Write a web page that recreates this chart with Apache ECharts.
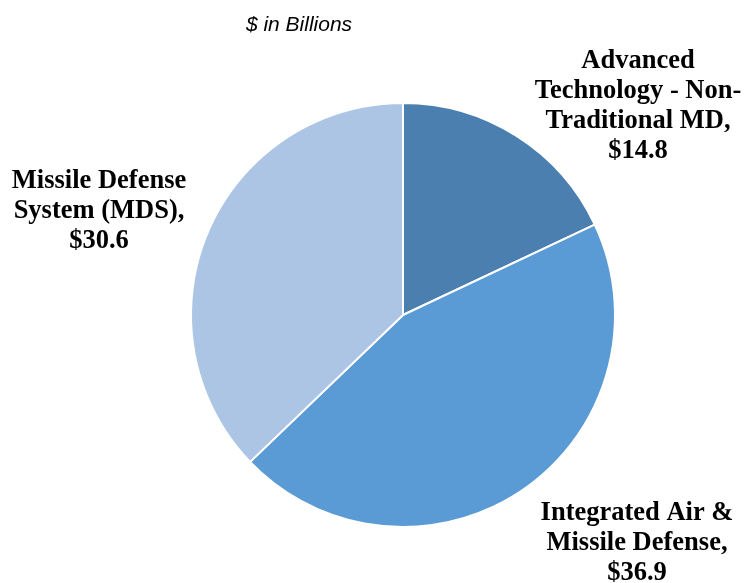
<!DOCTYPE html>
<html>
<head>
<meta charset="utf-8">
<script src="https://cdn.jsdelivr.net/npm/echarts@6/dist/echarts.min.js"></script>
<style>html,body{margin:0;padding:0;background:#fff}#c{width:744px;height:583px}</style>
</head>
<body>
<div id="c"></div>
<script>
const categories = ["Advanced\nTechnology - Non-\nTraditional MD,", "Integrated Air &\nMissile Defense,", "Missile Defense\nSystem (MDS),"];
const values = [14.8, 36.9, 30.6];
const colors = ["#4a7fb0", "#5b9bd5", "#adc5e5"];
const subtitle = "$ in Billions";

const labelPos = [[638, 106], [637, 543], [99, 211]];

const chart = echarts.init(document.getElementById('c'), null, {renderer: 'canvas'});
chart.setOption({
  animation: false,
  title: {
    text: subtitle, left: 294, top: 20, textAlign: 'center', textVerticalAlign: 'middle',
    textStyle: {fontFamily: 'Liberation Sans', fontStyle: 'italic', fontWeight: 'normal', fontSize: 21, color: '#000'}
  },
  series: [{
    type: 'pie',
    center: [403, 315],
    radius: 212,
    startAngle: 90,
    clockwise: true,
    itemStyle: {borderColor: '#fff', borderWidth: 2},
    labelLine: {show: false},
    label: {
      show: true,
      position: 'outside',
      overflow: 'none',
      width: 300,
      formatter: p => p.name + '\n$' + p.value.toFixed(1),
      fontFamily: 'Liberation Serif', fontWeight: 'bold', fontSize: 26.5, lineHeight: 30,
      color: '#000', align: 'center'
    },
    labelLayout: p => ({x: labelPos[p.dataIndex][0], y: labelPos[p.dataIndex][1], align: 'center', verticalAlign: 'middle'}),
    data: categories.map((n, i) => ({name: n, value: values[i], itemStyle: {color: colors[i]}}))
  }]
});
</script>
</body>
</html>
